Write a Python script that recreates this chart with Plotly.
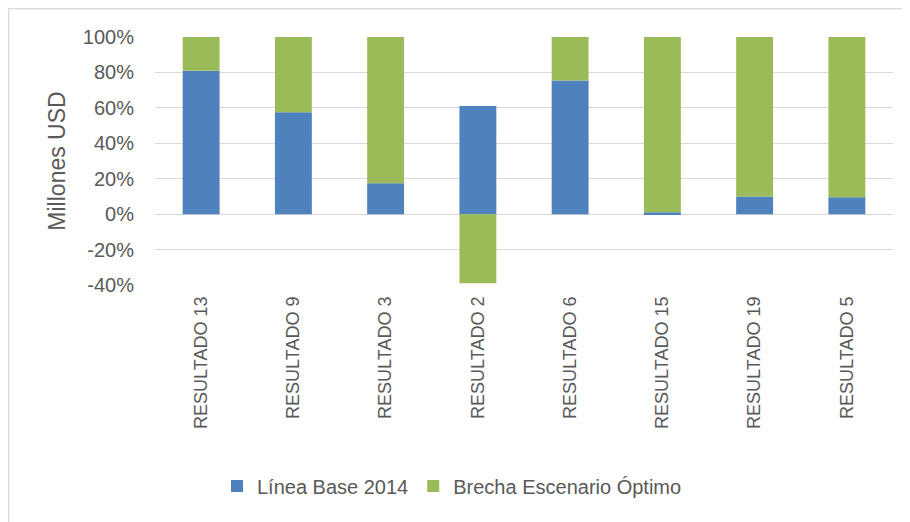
import plotly.graph_objects as go

categories = ["RESULTADO 13", "RESULTADO 9", "RESULTADO 3", "RESULTADO 2",
              "RESULTADO 6", "RESULTADO 15", "RESULTADO 19", "RESULTADO 5"]
linea_base = [81, 57.5, 17.5, 61, 75.5, 1, 10, 9.5]
brecha = [19, 42.5, 82.5, -39, 24.5, 99, 90, 90.5]
y_ticks = [-40, -20, 0, 20, 40, 60, 80, 100]
y_tick_labels = ["-40%", "-20%", "0%", "20%", "40%", "60%", "80%", "100%"]

# the page body has an 8px margin, so the figure is drawn 8px smaller
W, H = 902, 514
L, R, T, B = 147, 17, 29, 237
pw, ph = W - L - R, H - T - B

font_main = "Liberation Sans"
txt = "#595959"

fig = go.Figure()
fig.add_trace(go.Bar(x=categories, y=linea_base, name="Línea Base 2014",
                     marker=dict(color="#4f81bd", line=dict(width=0))))
fig.add_trace(go.Bar(x=categories, y=brecha, name="Brecha Escenario Óptimo",
                     marker=dict(color="#9bbb59", line=dict(width=0))))

fig.update_layout(
    width=W, height=H,
    barmode="relative", bargap=0.6,
    margin=dict(l=L, r=R, t=T, b=B, autoexpand=False),
    paper_bgcolor="white", plot_bgcolor="white",
    font=dict(family=font_main, color=txt, size=18),
    legend=dict(orientation="h", x=(452 - 155) / pw, xanchor="center",
                y=(285 - 486) / ph, yanchor="middle",
                font=dict(size=20, color=txt), itemwidth=30,
                traceorder="normal"),
    xaxis=dict(tickangle=-90, showgrid=False, showline=False, ticks="",
               tickfont=dict(size=18, color=txt), ticklabelstandoff=7,
               automargin=False),
    yaxis=dict(range=[-40, 100], tickvals=y_ticks, ticktext=y_tick_labels,
               showgrid=True, gridcolor="#d9d9d9", gridwidth=1.3,
               zeroline=True, zerolinecolor="#d9d9d9", zerolinewidth=1.3,
               tickfont=dict(size=20, color=txt), ticks="", ticklabelstandoff=20,
               automargin=False,
               title=dict(text="Millones USD", font=dict(size=23, color=txt), standoff=10)),
    shapes=[dict(type="rect", xref="paper", yref="paper",
                 x0=(0.5 - L) / pw, x1=(W + 5 - L) / pw,
                 y0=-(B + 5) / ph, y1=1 + (T - 0.5) / ph,
                 line=dict(color="#d9d9d9", width=1.5), layer="below")],
)

fig.write_html("out.html")
